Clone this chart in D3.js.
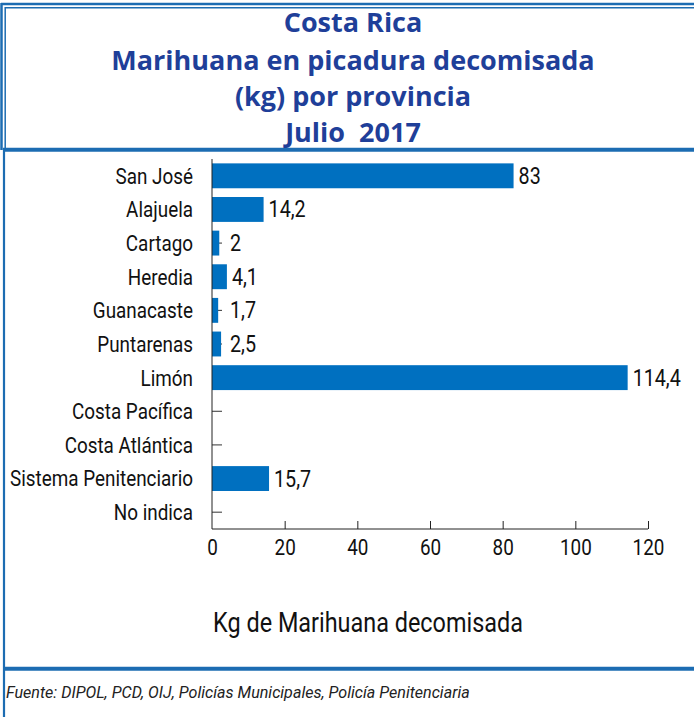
<!DOCTYPE html>
<html><head><meta charset="utf-8">
<script src="https://cdn.jsdelivr.net/npm/d3@7"></script>
<style>
html,body{margin:0;padding:0;background:#fff;}
svg{display:block;}
.cond{font-family:Roboto,"Liberation Sans",sans-serif;}
</style></head>
<body>
<svg id="chart" width="694" height="717"></svg>
<script>
const titleLines = ["Costa Rica", "Marihuana en picadura decomisada", "(kg) por provincia", "Julio  2017"];
const categories = ["San José","Alajuela","Cartago","Heredia","Guanacaste","Puntarenas","Limón","Costa Pacífica","Costa Atlántica","Sistema Penitenciario","No indica"];
const values = [83, 14.2, 2, 4.1, 1.7, 2.5, 114.4, 0, 0, 15.7, 0];
const xTicks = [0, 20, 40, 60, 80, 100, 120];
const xTitle = "Kg de Marihuana decomisada";
const source = "Fuente: DIPOL, PCD, OIJ, Policías Municipales, Policía Penitenciaria";

const svg = d3.select("#chart");
const borderColor = "#1c6cb2";
const barColor = "#0070c0";
const titleColor = "#1f3f99";

// horizontal squeeze helper (emulates a condensed face)
function squeeze(sel, k) {
  sel.each(function() {
    const t = d3.select(this);
    const x0 = +t.attr("x") || 0, y0 = +t.attr("y") || 0;
    t.attr("x", 0).attr("y", 0).attr("transform", `translate(${x0},${y0}) scale(${k},1)`);
  });
}
function fitTo(sel, target) {
  const w = sel.node().getComputedTextLength();
  squeeze(sel, target / w);
}

// frame lines
const frame = svg.append("g").attr("stroke", borderColor).attr("fill", "none");
frame.append("line").attr("x1",1).attr("x2",694).attr("y1",4).attr("y2",4).attr("stroke-width",2.5);
frame.append("line").attr("x1",5).attr("x2",694).attr("y1",7.8).attr("y2",7.8).attr("stroke-width",1.5);
frame.append("line").attr("x1",1.5).attr("x2",1.5).attr("y1",3).attr("y2",150).attr("stroke-width",2.5);
frame.append("line").attr("x1",5.2).attr("x2",5.2).attr("y1",7).attr("y2",148).attr("stroke-width",1.5);
frame.append("line").attr("x1",3).attr("x2",694).attr("y1",149.8).attr("y2",149.8).attr("stroke-width",4);
frame.append("line").attr("x1",4).attr("x2",4).attr("y1",148).attr("y2",717).attr("stroke-width",2.2);
frame.append("line").attr("x1",3).attr("x2",694).attr("y1",668.8).attr("y2",668.8).attr("stroke-width",4);

// title
const tBase = [32, 70, 106, 142];
svg.append("g").selectAll("text").data(titleLines).join("text")
  .attr("x", 353).attr("y", (d,i) => tBase[i])
  .attr("text-anchor","middle")
  .attr("font-family","'Open Sans', Lato, sans-serif")
  .attr("font-weight","bold").attr("font-size", 27)
  .attr("fill", titleColor)
  .style("white-space","pre")
  .text(d => d);

// chart
const x = d3.scaleLinear().domain([0, 120]).range([212, 648]);
const y = d3.scaleBand().domain(categories).range([159, 529]).paddingInner(0.26).paddingOuter(0.13);

const g = svg.append("g");
// leader dashes
g.append("g").selectAll("line").data(categories).join("line")
  .attr("x1", x(0)).attr("x2", x(0) + 10)
  .attr("y1", d => y(d) + y.bandwidth()/2).attr("y2", d => y(d) + y.bandwidth()/2)
  .attr("stroke", "#333").attr("stroke-width", 1);

g.append("g").selectAll("rect").data(values).join("rect")
  .attr("x", x(0)).attr("y", (d,i) => y(categories[i]))
  .attr("width", d => x(d) - x(0)).attr("height", y.bandwidth())
  .attr("fill", barColor);

// y axis
const yAxis = g.append("g").attr("transform", `translate(${x(0)},0)`)
  .call(d3.axisLeft(y).tickSize(0).tickPadding(19));
yAxis.select(".domain").attr("stroke","#222").attr("d", `M0,159V529`);
const yLabels = yAxis.selectAll("text").attr("class","cond").attr("font-size",22).attr("fill","#111").attr("dy","0.36em");
// compression factor calibrated on the widest label
const wide = yLabels.filter(d => d === "Sistema Penitenciario").node().getComputedTextLength();
const K = 183 / wide;
squeeze(yLabels, K);

// value labels
const fmt = v => String(v).replace(".", ",");
const vLabels = g.append("g").selectAll("text").data(values).join("text")
  .attr("class","cond")
  .attr("x", d => Math.max(x(d) + 5, x(0) + 18))
  .attr("y", (d,i) => y(categories[i]) + y.bandwidth()/2 + 8)
  .attr("font-size", 23).attr("fill", "#111")
  .text(d => d === 0 ? "" : fmt(d));
squeeze(vLabels, K);

// x axis
const xAxis = g.append("g").attr("transform", `translate(0,529)`)
  .call(d3.axisBottom(x).tickValues(xTicks).tickSize(0).tickPadding(10).tickFormat(d3.format("d")));
xAxis.select(".domain").attr("stroke","#222").attr("d", `M212,0H648`);
xAxis.selectAll(".tick line").attr("y2", -8).attr("stroke", "#222").filter(d => d === 0).remove();
const xl = xAxis.selectAll("text").attr("class","cond").attr("font-size",22).attr("fill","#111");
squeeze(xl, K);

const xt = svg.append("text").attr("class","cond")
  .attr("x", 368).attr("y", 632).attr("text-anchor","middle")
  .attr("font-size", 28).attr("fill","#111").text(xTitle);
fitTo(xt, 310);

const src = svg.append("text").attr("class","cond")
  .attr("x", 6).attr("y", 698)
  .attr("font-style","italic").attr("font-size", 17).attr("fill","#222").text(source);
fitTo(src, 464);
</script>
</body></html>
